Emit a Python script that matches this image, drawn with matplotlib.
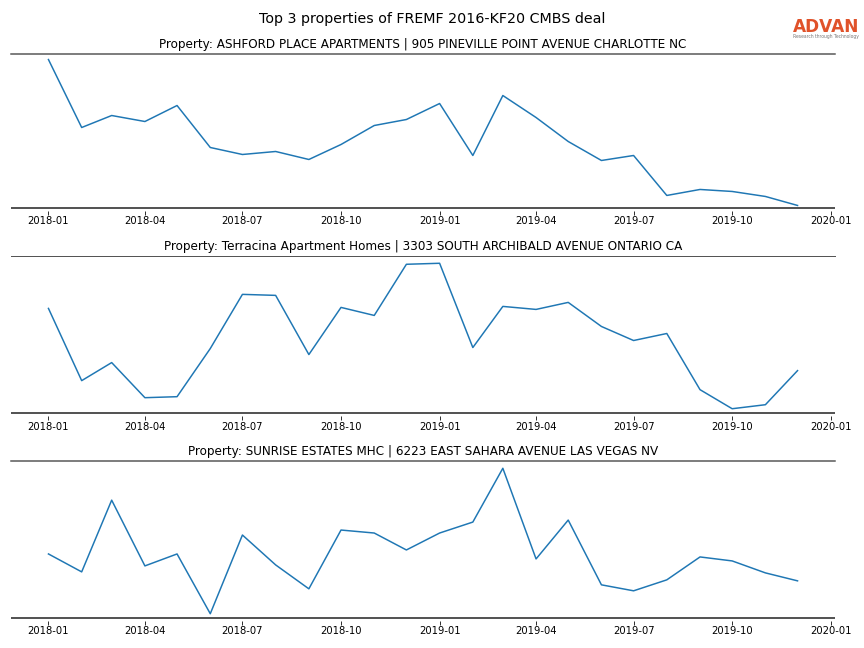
import numpy as np
import pandas as pd
import matplotlib
matplotlib.use("Agg")
import matplotlib.pyplot as plt
import matplotlib.dates as mdates
import matplotlib.transforms as mtransforms

# monthly values (arbitrary units, y axis is hidden)
months = pd.date_range("2018-01-01", "2019-12-01", freq="MS")

titles = [
    "Property: ASHFORD PLACE APARTMENTS | 905 PINEVILLE POINT AVENUE CHARLOTTE NC",
    "Property: Terracina Apartment Homes | 3303 SOUTH ARCHIBALD AVENUE ONTARIO CA",
    "Property: SUNRISE ESTATES MHC | 6223 EAST SAHARA AVENUE LAS VEGAS NV",
]

ashford = [150, 82, 94, 88, 104, 62, 55, 58, 50, 65, 84, 90,
           106, 54, 114, 92, 68, 49, 54, 14, 20, 18, 13, 4]
terracina = [105, 33, 51, 16, 17, 65, 119, 118, 59, 106, 98, 149,
             150, 66, 107, 104, 111, 87, 73, 80, 24, 5, 9, 43]
sunrise = [65, 47, 119, 53, 65, 5, 84, 54, 30, 89, 86, 69,
           86, 97, 151, 60, 99, 34, 28, 39, 62, 58, 46, 38]

series = [ashford, terracina, sunrise]

fig, axes = plt.subplots(nrows=3, ncols=1, figsize=(12, 9), dpi=72)
fig.suptitle("Top 3 properties of FREMF 2016-KF20 CMBS deal", y=0.9707, va="center",
             fontsize=14.3)

# pixel rows (top, bottom) of each panel in the 864x648 figure
rows = [(54, 211), (256, 416), (461, 621)]
W, H = 864, 648

for ax, values, title, (top, bottom) in zip(axes, series, titles, rows):
    ax.set_position([11 / W, 1 - bottom / H, (835 - 11) / W, (bottom - top) / H])
    ax.plot(months, values, color="C0", linewidth=1.5)
    ax.set_title(title)
    for side in ["left", "right", "bottom"]:
        ax.spines[side].set_visible(False)
    ax.spines["top"].set_color("#555555")
    ax.spines["top"].set_linewidth(1.5)
    # baseline sits a little above the tick marks
    shift = mtransforms.ScaledTranslation(0, 3 / 72, fig.dpi_scale_trans)
    ax.plot([0, 1], [0, 0], transform=ax.transAxes + shift, color="#555555",
            linewidth=2, solid_capstyle="butt", clip_on=False)
    ax.set_yticks([])
    ax.xaxis.set_major_locator(mdates.MonthLocator(bymonth=[1, 4, 7, 10]))
    ax.xaxis.set_major_formatter(mdates.DateFormatter("%Y-%m"))
    ax.tick_params(axis="x", labelsize=10, width=0.8, length=4, pad=1.5)

axes[0].margins(y=0.038)
axes[1].spines["top"].set_linewidth(1.0)

# logo in the top right corner
fig.text(0.956, 0.9583, "ADVAN", color="#E0522A", fontsize=17, fontweight="bold",
         ha="center", va="center")
fig.text(0.956, 0.943, "Research through Technology", color="#777777",
         fontsize=4.5, ha="center", va="center")

fig.savefig("out.png", dpi=72)
